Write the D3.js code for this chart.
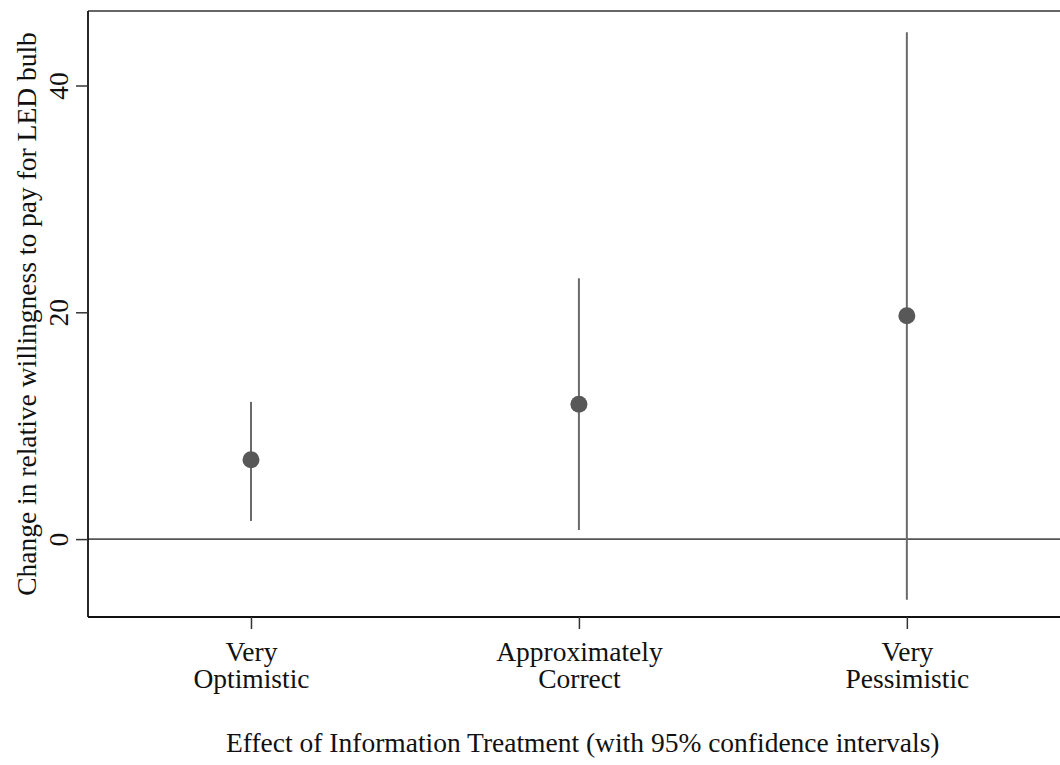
<!DOCTYPE html>
<html><head><meta charset="utf-8">
<script src="https://cdn.jsdelivr.net/npm/d3@7"></script>
<style>body{margin:0;background:#fff}svg{display:block}text{font-family:"Liberation Serif","Times New Roman",serif;fill:#111}</style>
</head><body><svg id="c" width="1060" height="765"></svg>
<script>
const categories = [["Very","Optimistic"],["Approximately","Correct"],["Very","Pessimistic"]];
const estimates = [7.0, 11.9, 19.7];
const ciLow = [1.6, 0.8, -5.35];
const ciHigh = [12.1, 23.0, 44.7];
const yTicks = [0, 20, 40];
const xTitle = "Effect of Information Treatment (with 95% confidence intervals)";
const yTitle = "Change in relative willingness to pay for LED bulb";

const svg = d3.select("#c");
const L = 88, R = 1060, T = 11, B = 617;
const FS = 27.5;
const x = d3.scaleLinear().domain([0.503, 3.467]).range([L, R]);
const y = d3.scaleLinear().domain([-6.87, 46.57]).range([B, T]);

// zero line
svg.append("line").attr("x1", L).attr("x2", R).attr("y1", y(0)).attr("y2", y(0))
  .attr("stroke", "#555").attr("stroke-width", 1.6);

// CIs
const idx = d3.range(estimates.length);
svg.selectAll("line.ci").data(idx).join("line").attr("class","ci")
  .attr("x1", i => x(i+1)).attr("x2", i => x(i+1))
  .attr("y1", i => y(ciLow[i])).attr("y2", i => y(ciHigh[i]))
  .attr("stroke", "#6a6a6a").attr("stroke-width", 2);
svg.selectAll("circle.pt").data(idx).join("circle").attr("class","pt")
  .attr("cx", i => x(i+1)).attr("cy", i => y(estimates[i])).attr("r", 8.5)
  .attr("fill", "#585858");

// frame: top line
svg.append("line").attr("x1", L).attr("x2", R).attr("y1", T).attr("y2", T)
  .attr("stroke", "#333").attr("stroke-width", 1.6);

// y axis
const ya = svg.append("g").attr("transform", `translate(${L},0)`)
  .call(d3.axisLeft(y).tickValues(yTicks).tickSize(12).tickFormat(d3.format("d")));
ya.select(".domain").attr("d", `M0,${T}V${B}`).attr("stroke", "#111").attr("stroke-width", 1.8);
ya.selectAll(".tick line").attr("stroke", "#333").attr("stroke-width", 1.5);
ya.selectAll(".tick text").attr("font-size", FS).attr("fill", "#111")
  .attr("transform", "rotate(-90)").attr("x", 0).attr("y", -20).attr("dy", 0)
  .attr("text-anchor", "middle").style("font-family", '"Liberation Serif",serif');

// x axis
const xa = svg.append("g").attr("transform", `translate(0,${B})`)
  .call(d3.axisBottom(x).tickValues([1,2,3]).tickSize(12).tickFormat(""));
xa.select(".domain").attr("d", `M${L},0H${R}`).attr("stroke", "#111").attr("stroke-width", 1.8);
xa.selectAll(".tick line").attr("stroke", "#333").attr("stroke-width", 1.5);
xa.selectAll(".tick").each(function(d){
  const t = d3.select(this).append("text").attr("text-anchor","middle").attr("font-size",FS)
    .style("font-family", '"Liberation Serif",serif').attr("fill","#111");
  categories[d-1].forEach((s,k)=>t.append("tspan").attr("x",0).attr("y",44+k*27).text(s));
});

svg.append("text").attr("x", 226).attr("y", 752).attr("text-anchor","start").attr("font-size",FS).text(xTitle);
svg.append("text").attr("transform", `translate(36,${(T+B)/2}) rotate(-90)`).attr("text-anchor","middle").attr("font-size",FS).text(yTitle);
</script></body></html>
